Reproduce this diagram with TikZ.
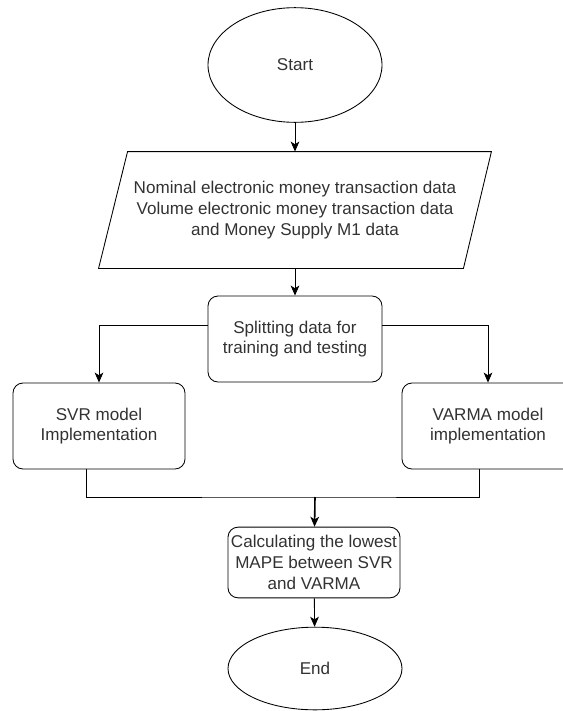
\documentclass[tikz,border=0pt]{standalone}
\usepackage{fontspec}
\setmainfont{Liberation Sans}
\usetikzlibrary{arrows.meta,shapes.geometric,calc,positioning}
\definecolor{TxtColor}{RGB}{50,50,50}

\begin{document}
\begin{tikzpicture}[x=0.75pt,y=-0.75pt,line width=0.65pt,
  every node/.style={align=center,font=\fontsize{12.8}{15.6}\selectfont,text=TxtColor,inner sep=1pt},
  term/.style={draw,ellipse,minimum width=130.5pt},
  proc/.style={draw,rounded corners=7.5pt,minimum width=129pt,minimum height=64.5pt},
  arr/.style={-{Stealth[length=7.5pt,width=6.5pt,inset=2pt]}}]
\useasboundingbox (0,0) rectangle (563,711);
\node[term,minimum height=86pt] (start) at (295,65) {Start};
\node[minimum width=294pt,minimum height=87pt] (data) at (295,210) {Nominal electronic money transaction data\\Volume electronic money transaction data\\and Money Supply M1 data};
\draw ($(data.north west)+(29,0)$) -- (data.north east) -- ($(data.south east)+(-28,0)$) -- (data.south west) -- cycle;
\node[proc,minimum width=130.5pt] (split) at (295,339) {Splitting data for\\training and testing};
\node[proc] (svr) at (99,426) {SVR model\\Implementation};
\node[proc] (varma) at (488,426) {VARMA model\\implementation};
\node[proc,minimum height=53pt] (calc) at (314,562.5) {Calculating the lowest\\MAPE between SVR\\and VARMA};
\node[term,minimum height=62pt] (fin) at (315,668.5) {End};
\coordinate (join) at (315,497);
\draw[arr] (start) -- (data.north);
\draw[arr] (data.south) -- (split);
\draw[arr] ([yshift=10.5pt]split.west) -| (svr);
\draw[arr] ([yshift=10.5pt]split.east) -| (varma);
\draw ([xshift=-9.75pt]svr.south) |- (join) -| ([xshift=-6.75pt]varma.south);
\draw[arr,line width=1.2pt] (join) -- (calc);
\draw[arr] (calc) -- (fin);
\end{tikzpicture}
\end{document}
